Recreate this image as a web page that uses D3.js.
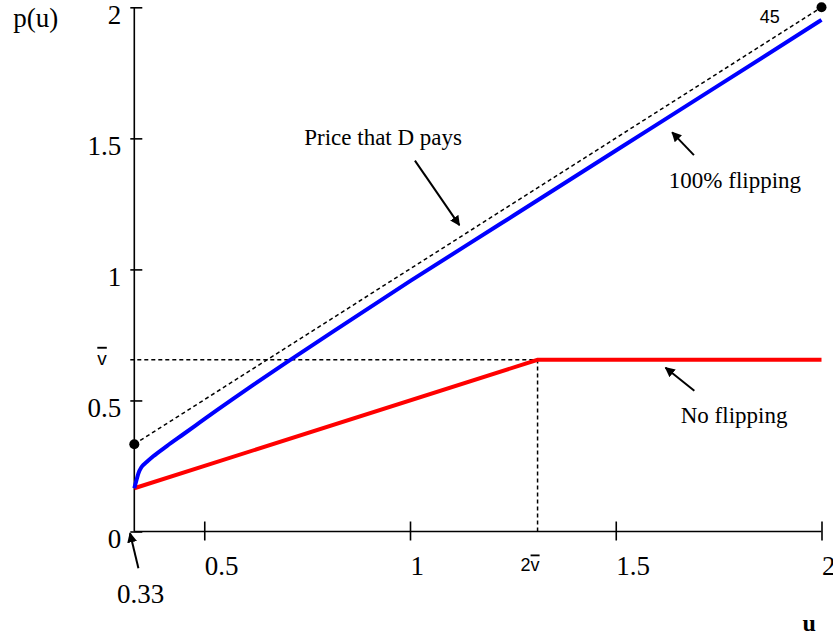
<!DOCTYPE html>
<html>
<head>
<meta charset="utf-8">
<script src="https://cdn.jsdelivr.net/npm/d3@7"></script>
<style>
  body { margin: 0; background: white; }
</style>
</head>
<body>
<script>
var chartWidth = 833;
var chartHeight = 636;
var margin = {top: 7.3, left: 134.3, right: 11.5, bottom: 104.5};
var width = chartWidth - margin.left - margin.right;
var height = chartHeight - margin.top - margin.bottom;

var serif = "'Liberation Serif', 'Times New Roman', serif";
var sans = "'Liberation Sans', Arial, sans-serif";

// data
var vbar = 0.655;
var xTicks = [0.5, 1, 1.5, 2];
var yTicks = [0, 0.5, 1, 1.5, 2];
var uStart = 0.33;

// 100% flipping (blue)
var flipU = [0.33, 0.336, 0.34, 0.348, 0.36, 0.376, 0.409, 0.45, 0.49, 0.53, 0.57, 0.62, 0.70, 0.81, 1.0, 1.22, 1.29, 1.51, 1.75, 2.0];
var flipP = [0.165, 0.2, 0.222, 0.247, 0.265, 0.287, 0.326, 0.372, 0.417, 0.462, 0.506, 0.56, 0.645, 0.76, 0.955, 1.174, 1.244, 1.463, 1.702, 1.952];

// no flipping (red)
var noFlipU = [0.33, 2 * vbar, 2];
var noFlipP = [0.165, vbar, vbar];

// 45 degree line: price that D pays
var diagU = [0.33, 2];
var diagP = [0.333, 2];

// annotations: text and arrows (tail -> tip), in data units
var labels = [
    {text: "Price that D pays", u: 0.743, p: 1.474},
    {text: "100% flipping", u: 1.629, p: 1.311},
    {text: "No flipping", u: 1.658, p: 0.414},
    {text: "0.33", u: 0.288, p: -0.273}
];
var arrows = [
    {u1: 1.012, p1: 1.415, u2: 1.12, p2: 1.169},
    {u1: 1.69, p1: 1.436, u2: 1.637, p2: 1.523},
    {u1: 1.691, p1: 0.537, u2: 1.621, p2: 0.625},
    {u1: 0.34, p1: -0.14, u2: 0.3196, p2: -0.007}
];

var svg = d3.select('body')
    .append('svg')
    .attr('width', chartWidth)
    .attr('height', chartHeight)
    .style('display', 'block');

svg.append("defs").append("marker")
    .attr("id", "head")
    .attr("viewBox", "0 0 10 10")
    .attr("refX", 9)
    .attr("refY", 5)
    .attr("markerWidth", 5)
    .attr("markerHeight", 5)
    .attr("markerUnits", "strokeWidth")
    .attr("orient", "auto")
    .append("path")
    .attr("d", "M0,0 L10,5 L0,10 z")
    .attr("fill", "black");

var g = svg.append("g")
    .attr("transform", `translate(${margin.left}, ${margin.top})`);

var x = d3.scaleLinear().domain([uStart, 2]).range([0, width]);
var y = d3.scaleLinear().domain([0, 2]).range([height, 0]);

// axes
var xAxis = g.append("g")
    .attr("transform", `translate(0, ${height})`)
    .call(d3.axisBottom(x).tickValues(xTicks).tickSizeOuter(0).tickFormat(d3.format("")));
xAxis.select(".domain").attr("stroke", "black").attr("stroke-width", 1.6).attr("d", `M0,0H${width}`);
xAxis.selectAll(".tick line").attr("y1", -10).attr("y2", 9).attr("stroke-width", 1.6);
xAxis.selectAll(".tick text")
    .attr("y", 43).attr("dy", null)
    .attr("text-anchor", "start")
    .attr("font-family", serif).attr("font-size", "27px").attr("fill", "black");

var yAxis = g.append("g")
    .call(d3.axisLeft(y).tickValues(yTicks).tickSizeOuter(0).tickFormat(d3.format("")));
yAxis.select(".domain").attr("stroke", "black").attr("stroke-width", 1.6).attr("d", `M0,${height}V0`);
yAxis.selectAll(".tick line").attr("x1", -4).attr("x2", 8).attr("stroke-width", 1.6);
yAxis.selectAll(".tick text")
    .attr("x", -13).attr("y", 16).attr("dy", null)
    .attr("font-family", serif).attr("font-size", "27px").attr("fill", "black");

// guide lines at v-bar
var guides = g.append("g")
    .attr("stroke", "black")
    .attr("stroke-width", 1.5)
    .attr("stroke-dasharray", "4,3")
    .attr("fill", "none");
guides.append("line")
    .attr("x1", x(uStart) - 4).attr("x2", x(2 * vbar))
    .attr("y1", y(vbar)).attr("y2", y(vbar));
guides.append("line")
    .attr("x1", x(2 * vbar)).attr("x2", x(2 * vbar))
    .attr("y1", y(0)).attr("y2", y(vbar));

var line = d3.line().x(d => x(d[0])).y(d => y(d[1]));

// 45 degree dashed line
g.append("path")
    .datum(d3.zip(diagU, diagP))
    .attr("d", line)
    .attr("fill", "none")
    .attr("stroke", "black")
    .attr("stroke-width", 1.5)
    .attr("stroke-dasharray", "4,3");

g.selectAll(".dot")
    .data(d3.zip(diagU, diagP))
    .join("circle")
    .attr("class", "dot")
    .attr("cx", d => x(d[0]))
    .attr("cy", d => y(d[1]))
    .attr("r", 5)
    .attr("fill", "black");

// red: no flipping
g.append("path")
    .datum(d3.zip(noFlipU, noFlipP))
    .attr("d", line)
    .attr("fill", "none")
    .attr("stroke", "#ff0000")
    .attr("stroke-width", 4);

// blue: 100% flipping
g.append("path")
    .datum(d3.zip(flipU, flipP))
    .attr("d", line.curve(d3.curveMonotoneX))
    .attr("fill", "none")
    .attr("stroke", "#0000ff")
    .attr("stroke-width", 4);

// annotation arrows
g.selectAll(".arrow")
    .data(arrows)
    .join("line")
    .attr("class", "arrow")
    .attr("x1", d => x(d.u1)).attr("y1", d => y(d.p1))
    .attr("x2", d => x(d.u2)).attr("y2", d => y(d.p2))
    .attr("stroke", "black")
    .attr("stroke-width", 2)
    .attr("marker-end", "url(#head)");

g.selectAll(".label")
    .data(labels)
    .join("text")
    .attr("class", "label")
    .attr("x", d => x(d.u))
    .attr("y", d => y(d.p))
    .attr("font-family", serif)
    .attr("font-size", d => d.text == "0.33" ? "27px" : "23px")
    .attr("fill", "black")
    .text(d => d.text);

// v-bar labels
g.append("text")
    .attr("x", -37).attr("y", y(vbar) + 5)
    .attr("font-family", sans).attr("font-size", "19px")
    .append("tspan")
    .style("text-decoration", "overline")
    .text("v");

var twoV = g.append("text")
    .attr("x", x(2 * vbar) - 17).attr("y", height + 40)
    .attr("font-family", sans).attr("font-size", "18px");
twoV.append("tspan").text("2");
twoV.append("tspan").style("text-decoration", "overline").text("v");

g.append("text")
    .attr("x", x(1.85)).attr("y", y(1.94))
    .attr("font-family", sans).attr("font-size", "18px")
    .text("45");

// axis titles
g.append("text")
    .attr("x", -121).attr("y", 20)
    .attr("font-family", serif).attr("font-size", "27px")
    .text("p(u)");

g.append("text")
    .attr("x", width - 19).attr("y", height + 100)
    .attr("font-family", serif).attr("font-size", "24px").attr("font-weight", "bold")
    .text("u");
</script>
</body>
</html>
